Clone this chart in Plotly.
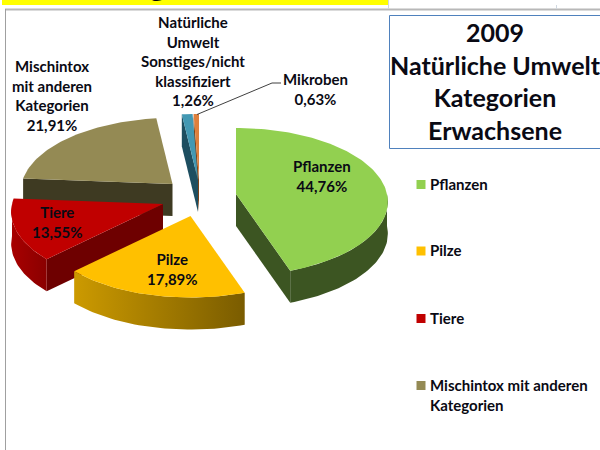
import math
import plotly.graph_objects as go

# ---- data ----
categories = ["Pflanzen", "Pilze", "Tiere", "Mischintox mit anderen Kategorien",
              "Natürliche Umwelt Sonstiges/nicht klassifiziert", "Mikroben"]
values = [44.76, 17.89, 13.55, 21.91, 1.26, 0.63]
slice_labels = ["Pflanzen", "Pilze", "Tiere", "Mischintox<br>mit anderen<br>Kategorien",
                "Natürliche<br>Umwelt<br>Sonstiges/nicht<br>klassifiziert", "Mikroben"]
legend_labels = ["Pflanzen", "Pilze", "Tiere", "Mischintox mit anderen<br>Kategorien"]
title_text = "2009<br>Natürliche Umwelt<br>Kategorien<br>Erwachsene"

# ---- styling and layout ----
top_colors = ["#92D050", "#FFC000", "#C00000", "#948A54", "#4298B3", "#DE7F3C"]
face_colors = ["#3C5522", "#7F6000", "#6E0000", "#3E3A22", "#1D4E60", "#7A4218"]
side_colors = [("#3C5522", "#3C5522"), ("#CC9A00", "#7A5C00"), ("#A80000", "#8A0000"),
               ("#3E3A22", "#3E3A22"), ("#1D4E60", "#1D4E60"), ("#7A4218", "#7A4218")]
apexes = [(236, 194), (190.5, 216), (163, 204), (172.5, 184), (198, 180), (199, 180)]
label_pos = [(322, 176), (172, 269), (57, 222), (52, 95), (193, 61), (315, 89)]
draw_order = [3, 5, 4, 0, 2, 1]
RX, RY, PERSP, DEPTH = 151, 73, 0.105, 32
FONT = "Lato, Carlito, Calibri, sans-serif"
TEXT = "#0A0A14"


def project(apex, theta):
    c = math.cos(theta)
    d = 1 + PERSP * c
    return apex[0] + RX * math.sin(theta) / d, apex[1] - RY * c / d


def arc(apex, a, b):
    n = max(2, int(abs(b - a) / math.radians(1.5)))
    return [project(apex, a + (b - a) * i / n) for i in range(n + 1)]


def poly(points, color, gradient=None):
    xs = [p[0] for p in points] + [points[0][0]]
    ys = [p[1] for p in points] + [points[0][1]]
    tr = go.Scatter(x=xs, y=ys, mode="lines", fill="toself", line=dict(width=0),
                    fillcolor=color, hoverinfo="skip", showlegend=False)
    if gradient:
        tr.fillgradient = dict(type="horizontal",
                               colorscale=[[0, gradient[0]], [1, gradient[1]]])
    return tr


fig = go.Figure()
total = sum(values)
starts, acc = [], 0.0
for v in values:
    starts.append(acc / total * 2 * math.pi)
    acc += v
ends = starts[1:] + [2 * math.pi]

for i in draw_order:
    ap, a, b = apexes[i], starts[i], ends[i]
    # visible radial faces
    ps, pe = project(ap, a), project(ap, b)
    if ps[0] < ap[0] - 0.5:
        fig.add_trace(poly([ap, ps, (ps[0], ps[1] + DEPTH), (ap[0], ap[1] + DEPTH)], face_colors[i]))
    if pe[0] > ap[0] + 0.5:
        fig.add_trace(poly([ap, pe, (pe[0], pe[1] + DEPTH), (ap[0], ap[1] + DEPTH)], face_colors[i]))
    # outer wall (front half of the disc only)
    lo, hi = max(a, math.pi / 2), min(b, 3 * math.pi / 2)
    if hi > lo:
        pts = arc(ap, lo, hi)
        wall = pts + [(x, y + DEPTH) for x, y in reversed(pts)]
        fig.add_trace(poly(wall, side_colors[i][0], side_colors[i] if side_colors[i][0] != side_colors[i][1] else None))
    # top surface
    fig.add_trace(poly([ap] + arc(ap, a, b), top_colors[i]))

# leader line of the Mikroben label
fig.add_trace(go.Scatter(x=[197, 272, 281], y=[114.5, 83, 83], mode="lines",
                         line=dict(color="#404040", width=1), hoverinfo="skip", showlegend=False))

# legend swatches
legend_y = [184.5, 251, 318.5, 385.5]
fig.add_trace(go.Scatter(x=[421] * len(legend_y), y=legend_y, mode="markers",
                         marker=dict(symbol="square", size=9, color=top_colors[:4], line=dict(width=0)),
                         hoverinfo="skip", showlegend=False))

annotations = []
for i, lab in enumerate(slice_labels):
    annotations.append(dict(x=label_pos[i][0], y=label_pos[i][1], xref="x", yref="y",
                            text=f"{lab}<br>{values[i]:.2f}%".replace(".", ","), showarrow=False,
                            align="center", xanchor="center", yanchor="middle",
                            font=dict(family=FONT, size=15, color=TEXT, weight="bold")))
for lab, y in zip(legend_labels, legend_y):
    annotations.append(dict(x=428, y=y - 12, xref="x", yref="y", text=lab, showarrow=False,
                            align="left", xanchor="left", yanchor="top",
                            font=dict(family=FONT, size=15, color=TEXT, weight="bold")))
annotations.append(dict(x=495.5, y=81, xref="x", yref="y", text=title_text, showarrow=False,
                        align="center", xanchor="center", yanchor="middle",
                        font=dict(family=FONT, size=25, color=TEXT, weight="bold")))
annotations.append(dict(x=157, y=4, xref="x", yref="y", text="g", showarrow=False,
                        xanchor="center", yanchor="bottom",
                        font=dict(family=FONT, size=30, color="#000000", weight="bold")))

shapes = [
    dict(type="rect", x0=2, x1=388, y0=-2, y1=5, fillcolor="#FFFF00", line=dict(width=0), layer="below"),
    dict(type="line", x0=5, x1=600, y0=9.5, y1=9.5, line=dict(color="#B8B8B8", width=2), layer="below"),
    dict(type="line", x0=5.5, x1=5.5, y0=9, y1=452, line=dict(color="#A0A0A0", width=1), layer="below"),
    dict(type="line", x0=388.5, x1=388.5, y0=0, y1=9, line=dict(color="#D0D8E0", width=1), layer="below"),
    dict(type="line", x0=556.5, x1=556.5, y0=5, y1=9, line=dict(color="#D0D8E0", width=1), layer="below"),
    dict(type="rect", x0=389.5, x1=604, y0=15.5, y1=148.5, fillcolor="#FFFFFF",
         line=dict(color="#4F81BD", width=1), layer="below"),
]

fig.update_layout(
    width=600, height=450, autosize=False, margin=dict(l=0, r=0, t=0, b=0),
    paper_bgcolor="white", plot_bgcolor="white", showlegend=False,
    xaxis=dict(range=[0, 600], visible=False, fixedrange=True),
    yaxis=dict(range=[450, 0], visible=False, fixedrange=True),
    annotations=annotations, shapes=shapes,
)
fig.write_html("out.html", post_script="document.body.style.margin='0';", config={"displayModeBar": False})
